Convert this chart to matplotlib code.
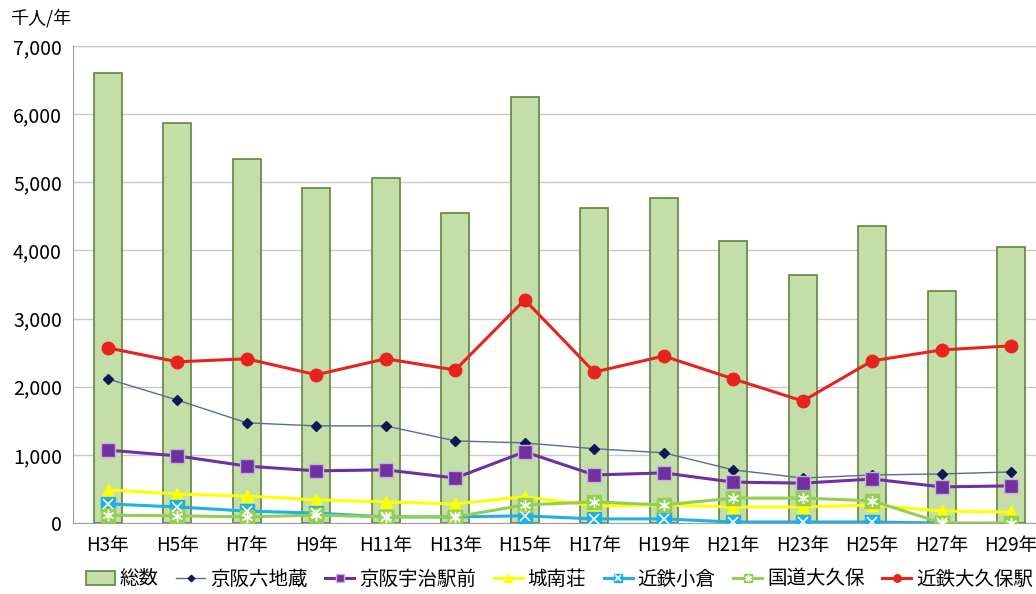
import numpy as np
import matplotlib.pyplot as plt

plt.rcParams['font.family'] = ['Noto Sans CJK JP', 'DejaVu Sans']

years = ["H3年", "H5年", "H7年", "H9年", "H11年", "H13年", "H15年",
         "H17年", "H19年", "H21年", "H23年", "H25年", "H27年", "H29年"]

total = [6600, 5870, 5345, 4920, 5065, 4550, 6255, 4625, 4770, 4140, 3640, 4360, 3405, 4055]
rokujizo = [2115, 1805, 1470, 1425, 1425, 1205, 1175, 1090, 1030, 780, 660, 705, 720, 750]
uji_ekimae = [1070, 985, 835, 765, 780, 660, 1045, 705, 735, 600, 585, 645, 530, 545]
jonanso = [485, 425, 395, 340, 310, 280, 385, 250, 265, 235, 235, 265, 175, 160]
ogura = [280, 235, 175, 145, 90, 90, 105, 60, 60, 15, 15, 15, 0, np.nan]
kokudo_okubo = [115, 105, 90, 115, 90, 90, 265, 310, 265, 365, 365, 325, 0, 0]
okubo_eki = [2570, 2365, 2410, 2175, 2410, 2245, 3275, 2215, 2450, 2115, 1790, 2380, 2540, 2600]

fig = plt.figure(figsize=(10.36, 5.94), dpi=100)
# plot area runs off the right edge of the picture, like the original crop
ax = fig.add_axes([73 / 1036, 1 - 523 / 594, 973 / 1036, 477 / 594])

x = np.arange(len(years))
bars = ax.bar(x, total, width=0.4, color="#c3dea6", edgecolor="#5f8540", linewidth=1.2, zorder=2)

l1, = ax.plot(x, rokujizo, color="#5a6a9a", lw=1.0, marker="D", ms=5.5,
              mfc="#0b1a55", mec="#0b1a55", zorder=3)
l2, = ax.plot(x, uji_ekimae, color="#7030a0", lw=2.2, marker="s", ms=10,
              mfc="#7030a0", mec="#c8b0e0", zorder=4)
l3, = ax.plot(x, jonanso, color="#ffff00", lw=2.2, marker="^", ms=9,
              mfc="#ffff00", mec="#ffff00", zorder=4)
l4, = ax.plot(x, ogura, color="#1fb0e6", lw=2.2, marker="s", ms=10,
              mfc="#1fb0e6", mec="#1fb0e6", zorder=4)
l4x, = ax.plot(x, ogura, ls="none", marker="x", ms=7, mew=1.2, mec="white", zorder=5)
l5, = ax.plot(x, kokudo_okubo, color="#92d050", lw=2.2, marker="s", ms=10,
              mfc="#92d050", mec="#92d050", zorder=4)
l5x, = ax.plot(x, kokudo_okubo, ls="none", marker=(6, 2, 0), ms=8, mew=1.0, mec="white", zorder=5)
l6, = ax.plot(x, okubo_eki, color="#e8231e", lw=2.2, marker="o", ms=9,
              mfc="#e8231e", mec="#e8231e", zorder=6)

ax.set_xlim(-0.5, 13.5)
ax.set_ylim(0, 7000)
ax.set_yticks(range(0, 7001, 1000))
ax.set_yticklabels([f"{v:,}" for v in range(0, 7001, 1000)], fontsize=14)
ax.set_xticks(x)
ax.set_xticklabels(years, fontsize=13.5)
ax.tick_params(axis="y", length=0, pad=8)
ax.tick_params(axis="x", length=0, pad=9)
ax.grid(axis="y", color="#c8c8c8", lw=1.0, zorder=0)
for s in ["top", "right"]:
    ax.spines[s].set_visible(False)
ax.spines["left"].set_color("#a0a0a0")
ax.spines["bottom"].set_color("#a0a0a0")
ax.axhline(7000, color="#c8c8c8", lw=1.0, zorder=0)

fig.text(10 / 1036, 1 - 18 / 594, "千人/年", fontsize=13, va="center", ha="left")

handles = [bars, l1, l2, l3, (l4, l4x), (l5, l5x), l6]
labels = ["総数", "京阪六地蔵", "京阪宇治駅前", "城南荘", "近鉄小倉", "国道大久保", "近鉄大久保駅"]
fig.legend(handles, labels, loc="center", bbox_to_anchor=(0.54, 1 - 579 / 594), ncol=7,
           frameon=False, fontsize=14, handlelength=1.5, columnspacing=0.9,
           handletextpad=0.25, markerscale=0.6, borderpad=0.1)

fig.savefig("out.png", dpi=100, facecolor="white")
